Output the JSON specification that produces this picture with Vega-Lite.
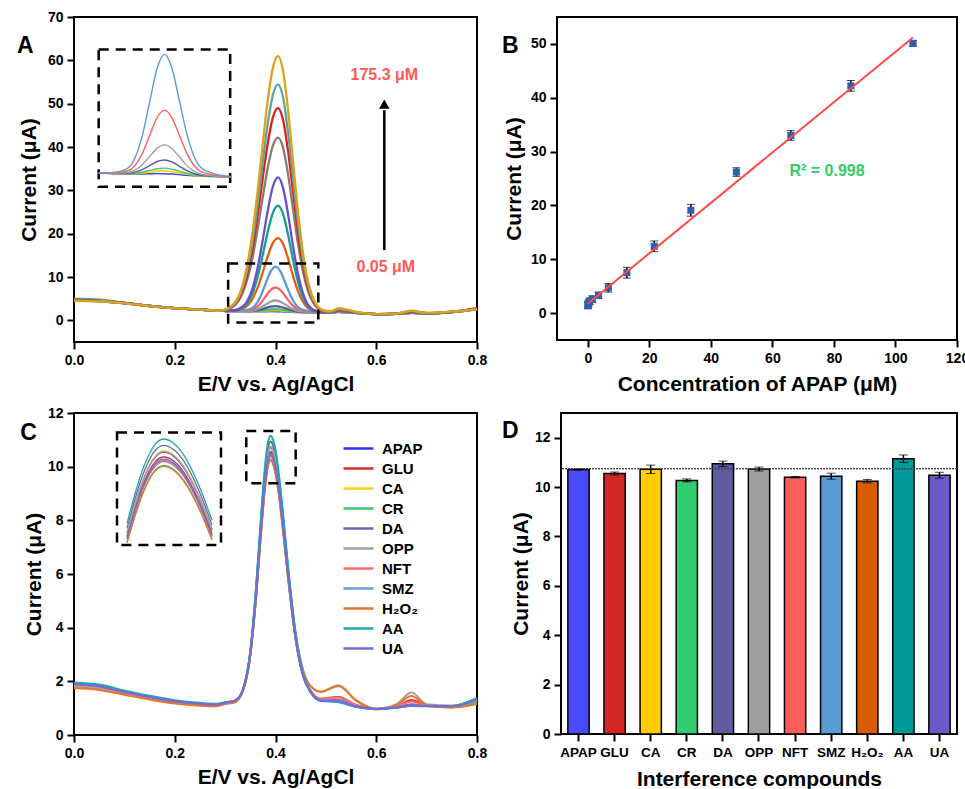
{
"$schema": "https://vega.github.io/schema/vega-lite/v6.json",
"background": "white",
"padding": {"left": 15, "top": 9, "right": 0, "bottom": 0},
"spacing": 10,
"resolve": {"scale": {"color": "independent"}, "legend": {"color": "independent"}},
"datasets": {
"A": [
{"c":"a14","x":0,"y":4.8},{"c":"a14","x":0.05,"y":4.6},{"c":"a14","x":0.1,"y":4.0},{"c":"a14","x":0.15,"y":3.35},{"c":"a14","x":0.2,"y":2.8},{"c":"a14","x":0.25,"y":2.45},{"c":"a14","x":0.29,"y":2.25},
{"c":"a14","x":0.31,"y":2.15},{"c":"a14","x":0.33,"y":2.11},{"c":"a14","x":0.35,"y":2.08},{"c":"a14","x":0.36,"y":2.07},{"c":"a14","x":0.37,"y":2.08},{"c":"a14","x":0.38,"y":2.09},{"c":"a14","x":0.39,"y":2.11},{"c":"a14","x":0.4,"y":2.1},{"c":"a14","x":0.41,"y":2.07},{"c":"a14","x":0.42,"y":2.02},{"c":"a14","x":0.43,"y":1.96},{"c":"a14","x":0.44,"y":1.92},{"c":"a14","x":0.45,"y":1.89},{"c":"a14","x":0.47,"y":1.85},{"c":"a14","x":0.49,"y":1.81},
{"c":"a14","x":0.51,"y":1.8},{"c":"a14","x":0.525,"y":1.95},{"c":"a14","x":0.545,"y":1.85},{"c":"a14","x":0.57,"y":1.6},{"c":"a14","x":0.6,"y":1.45},{"c":"a14","x":0.64,"y":1.5},{"c":"a14","x":0.67,"y":1.75},{"c":"a14","x":0.7,"y":1.6},{"c":"a14","x":0.75,"y":1.9},{"c":"a14","x":0.8,"y":2.6},
{"c":"a13","x":0,"y":4.75},{"c":"a13","x":0.05,"y":4.55},{"c":"a13","x":0.1,"y":3.98},{"c":"a13","x":0.15,"y":3.33},{"c":"a13","x":0.2,"y":2.8},{"c":"a13","x":0.25,"y":2.45},{"c":"a13","x":0.29,"y":2.25},
{"c":"a13","x":0.31,"y":2.15},{"c":"a13","x":0.33,"y":2.11},{"c":"a13","x":0.35,"y":2.09},{"c":"a13","x":0.36,"y":2.1},{"c":"a13","x":0.37,"y":2.16},{"c":"a13","x":0.38,"y":2.23},{"c":"a13","x":0.39,"y":2.31},{"c":"a13","x":0.4,"y":2.33},{"c":"a13","x":0.41,"y":2.27},{"c":"a13","x":0.42,"y":2.16},{"c":"a13","x":0.43,"y":2.05},{"c":"a13","x":0.44,"y":1.96},{"c":"a13","x":0.45,"y":1.9},{"c":"a13","x":0.47,"y":1.86},{"c":"a13","x":0.49,"y":1.81},
{"c":"a13","x":0.51,"y":1.8},{"c":"a13","x":0.525,"y":1.95},{"c":"a13","x":0.545,"y":1.85},{"c":"a13","x":0.57,"y":1.6},{"c":"a13","x":0.6,"y":1.45},{"c":"a13","x":0.64,"y":1.5},{"c":"a13","x":0.67,"y":1.72},{"c":"a13","x":0.7,"y":1.58},{"c":"a13","x":0.75,"y":1.88},{"c":"a13","x":0.8,"y":2.55},
{"c":"a12","x":0,"y":5.0},{"c":"a12","x":0.05,"y":4.75},{"c":"a12","x":0.1,"y":4.05},{"c":"a12","x":0.15,"y":3.35},{"c":"a12","x":0.2,"y":2.8},{"c":"a12","x":0.25,"y":2.45},{"c":"a12","x":0.29,"y":2.25},
{"c":"a12","x":0.31,"y":2.15},{"c":"a12","x":0.33,"y":2.12},{"c":"a12","x":0.35,"y":2.1},{"c":"a12","x":0.36,"y":2.13},{"c":"a12","x":0.37,"y":2.24},{"c":"a12","x":0.38,"y":2.39},{"c":"a12","x":0.39,"y":2.53},{"c":"a12","x":0.4,"y":2.58},{"c":"a12","x":0.41,"y":2.49},{"c":"a12","x":0.42,"y":2.32},{"c":"a12","x":0.43,"y":2.14},{"c":"a12","x":0.44,"y":2.0},{"c":"a12","x":0.45,"y":1.92},{"c":"a12","x":0.47,"y":1.86},{"c":"a12","x":0.49,"y":1.81},
{"c":"a12","x":0.51,"y":1.8},{"c":"a12","x":0.525,"y":1.95},{"c":"a12","x":0.545,"y":1.85},{"c":"a12","x":0.57,"y":1.6},{"c":"a12","x":0.6,"y":1.45},{"c":"a12","x":0.64,"y":1.5},{"c":"a12","x":0.67,"y":1.75},{"c":"a12","x":0.7,"y":1.6},{"c":"a12","x":0.75,"y":1.9},{"c":"a12","x":0.8,"y":2.7},
{"c":"a11","x":0,"y":4.8},{"c":"a11","x":0.05,"y":4.6},{"c":"a11","x":0.1,"y":4.0},{"c":"a11","x":0.15,"y":3.35},{"c":"a11","x":0.2,"y":2.8},{"c":"a11","x":0.25,"y":2.45},{"c":"a11","x":0.29,"y":2.25},
{"c":"a11","x":0.31,"y":2.15},{"c":"a11","x":0.33,"y":2.12},{"c":"a11","x":0.35,"y":2.14},{"c":"a11","x":0.36,"y":2.23},{"c":"a11","x":0.37,"y":2.47},{"c":"a11","x":0.38,"y":2.81},{"c":"a11","x":0.39,"y":3.15},{"c":"a11","x":0.4,"y":3.28},{"c":"a11","x":0.41,"y":3.12},{"c":"a11","x":0.42,"y":2.76},{"c":"a11","x":0.43,"y":2.39},{"c":"a11","x":0.44,"y":2.12},{"c":"a11","x":0.45,"y":1.97},{"c":"a11","x":0.47,"y":1.88},{"c":"a11","x":0.49,"y":1.82},
{"c":"a11","x":0.51,"y":1.8},{"c":"a11","x":0.525,"y":1.95},{"c":"a11","x":0.545,"y":1.85},{"c":"a11","x":0.57,"y":1.6},{"c":"a11","x":0.6,"y":1.45},{"c":"a11","x":0.64,"y":1.5},{"c":"a11","x":0.67,"y":1.75},{"c":"a11","x":0.7,"y":1.6},{"c":"a11","x":0.75,"y":1.9},{"c":"a11","x":0.8,"y":2.6},
{"c":"a10","x":0,"y":4.8},{"c":"a10","x":0.05,"y":4.6},{"c":"a10","x":0.1,"y":4.0},{"c":"a10","x":0.15,"y":3.35},{"c":"a10","x":0.2,"y":2.8},{"c":"a10","x":0.25,"y":2.45},{"c":"a10","x":0.29,"y":2.25},
{"c":"a10","x":0.31,"y":2.15},{"c":"a10","x":0.33,"y":2.14},{"c":"a10","x":0.35,"y":2.2},{"c":"a10","x":0.36,"y":2.41},{"c":"a10","x":0.37,"y":2.9},{"c":"a10","x":0.38,"y":3.61},{"c":"a10","x":0.39,"y":4.3},{"c":"a10","x":0.4,"y":4.58},{"c":"a10","x":0.41,"y":4.27},{"c":"a10","x":0.42,"y":3.58},{"c":"a10","x":0.43,"y":2.86},{"c":"a10","x":0.44,"y":2.34},{"c":"a10","x":0.45,"y":2.06},{"c":"a10","x":0.47,"y":1.9},{"c":"a10","x":0.49,"y":1.82},
{"c":"a10","x":0.51,"y":1.8},{"c":"a10","x":0.525,"y":1.95},{"c":"a10","x":0.545,"y":1.85},{"c":"a10","x":0.57,"y":1.6},{"c":"a10","x":0.6,"y":1.45},{"c":"a10","x":0.64,"y":1.5},{"c":"a10","x":0.67,"y":1.75},{"c":"a10","x":0.7,"y":1.6},{"c":"a10","x":0.75,"y":1.9},{"c":"a10","x":0.8,"y":2.6},
{"c":"a9","x":0,"y":4.8},{"c":"a9","x":0.05,"y":4.6},{"c":"a9","x":0.1,"y":4.0},{"c":"a9","x":0.15,"y":3.35},{"c":"a9","x":0.2,"y":2.8},{"c":"a9","x":0.25,"y":2.45},{"c":"a9","x":0.29,"y":2.25},
{"c":"a9","x":0.31,"y":2.15},{"c":"a9","x":0.33,"y":2.17},{"c":"a9","x":0.35,"y":2.35},{"c":"a9","x":0.36,"y":2.83},{"c":"a9","x":0.37,"y":3.89},{"c":"a9","x":0.38,"y":5.44},{"c":"a9","x":0.39,"y":6.96},{"c":"a9","x":0.4,"y":7.58},{"c":"a9","x":0.41,"y":6.94},{"c":"a9","x":0.42,"y":5.47},{"c":"a9","x":0.43,"y":3.94},{"c":"a9","x":0.44,"y":2.85},{"c":"a9","x":0.45,"y":2.27},{"c":"a9","x":0.47,"y":1.96},{"c":"a9","x":0.49,"y":1.84},
{"c":"a9","x":0.51,"y":1.8},{"c":"a9","x":0.525,"y":1.95},{"c":"a9","x":0.545,"y":1.85},{"c":"a9","x":0.57,"y":1.6},{"c":"a9","x":0.6,"y":1.45},{"c":"a9","x":0.64,"y":1.5},{"c":"a9","x":0.67,"y":1.75},{"c":"a9","x":0.7,"y":1.6},{"c":"a9","x":0.75,"y":1.9},{"c":"a9","x":0.8,"y":2.8},
{"c":"a8","x":0,"y":4.8},{"c":"a8","x":0.05,"y":4.6},{"c":"a8","x":0.1,"y":4.0},{"c":"a8","x":0.15,"y":3.35},{"c":"a8","x":0.2,"y":2.8},{"c":"a8","x":0.25,"y":2.45},{"c":"a8","x":0.29,"y":2.25},
{"c":"a8","x":0.31,"y":2.15},{"c":"a8","x":0.33,"y":2.21},{"c":"a8","x":0.35,"y":2.59},{"c":"a8","x":0.36,"y":3.51},{"c":"a8","x":0.37,"y":5.47},{"c":"a8","x":0.38,"y":8.36},{"c":"a8","x":0.39,"y":11.2},{"c":"a8","x":0.4,"y":12.38},{"c":"a8","x":0.41,"y":11.22},{"c":"a8","x":0.42,"y":8.49},{"c":"a8","x":0.43,"y":5.66},{"c":"a8","x":0.44,"y":3.67},{"c":"a8","x":0.45,"y":2.61},{"c":"a8","x":0.47,"y":2.06},{"c":"a8","x":0.49,"y":1.86},
{"c":"a8","x":0.51,"y":1.8},{"c":"a8","x":0.525,"y":1.95},{"c":"a8","x":0.545,"y":1.85},{"c":"a8","x":0.57,"y":1.6},{"c":"a8","x":0.6,"y":1.45},{"c":"a8","x":0.64,"y":1.5},{"c":"a8","x":0.67,"y":1.78},{"c":"a8","x":0.7,"y":1.6},{"c":"a8","x":0.75,"y":1.9},{"c":"a8","x":0.8,"y":2.6},
{"c":"a7","x":0,"y":4.7},{"c":"a7","x":0.05,"y":4.5},{"c":"a7","x":0.1,"y":3.98},{"c":"a7","x":0.15,"y":3.32},{"c":"a7","x":0.2,"y":2.8},{"c":"a7","x":0.25,"y":2.45},{"c":"a7","x":0.29,"y":2.25},
{"c":"a7","x":0.315,"y":2.21},{"c":"a7","x":0.335,"y":2.7},{"c":"a7","x":0.355,"y":5.12},{"c":"a7","x":0.365,"y":7.72},{"c":"a7","x":0.375,"y":11.19},{"c":"a7","x":0.385,"y":14.93},{"c":"a7","x":0.395,"y":17.87},{"c":"a7","x":0.405,"y":18.97},{"c":"a7","x":0.415,"y":17.64},{"c":"a7","x":0.425,"y":14.27},{"c":"a7","x":0.435,"y":10.19},{"c":"a7","x":0.445,"y":6.62},{"c":"a7","x":0.455,"y":4.17},{"c":"a7","x":0.475,"y":2.18},{"c":"a7","x":0.495,"y":1.83},
{"c":"a7","x":0.51,"y":1.8},{"c":"a7","x":0.525,"y":2.1},{"c":"a7","x":0.545,"y":1.95},{"c":"a7","x":0.57,"y":1.65},{"c":"a7","x":0.6,"y":1.45},{"c":"a7","x":0.64,"y":1.5},{"c":"a7","x":0.67,"y":1.85},{"c":"a7","x":0.7,"y":1.6},{"c":"a7","x":0.75,"y":1.9},{"c":"a7","x":0.8,"y":2.8},
{"c":"a6","x":0,"y":4.7},{"c":"a6","x":0.05,"y":4.5},{"c":"a6","x":0.1,"y":3.98},{"c":"a6","x":0.15,"y":3.32},{"c":"a6","x":0.2,"y":2.8},{"c":"a6","x":0.25,"y":2.45},{"c":"a6","x":0.29,"y":2.25},
{"c":"a6","x":0.315,"y":2.24},{"c":"a6","x":0.335,"y":2.96},{"c":"a6","x":0.355,"y":6.47},{"c":"a6","x":0.365,"y":10.22},{"c":"a6","x":0.375,"y":15.24},{"c":"a6","x":0.385,"y":20.63},{"c":"a6","x":0.395,"y":24.87},{"c":"a6","x":0.405,"y":26.47},{"c":"a6","x":0.415,"y":24.56},{"c":"a6","x":0.425,"y":19.72},{"c":"a6","x":0.435,"y":13.84},{"c":"a6","x":0.445,"y":8.7},{"c":"a6","x":0.455,"y":5.18},{"c":"a6","x":0.475,"y":2.33},{"c":"a6","x":0.495,"y":1.84},
{"c":"a6","x":0.51,"y":1.85},{"c":"a6","x":0.525,"y":2.2},{"c":"a6","x":0.545,"y":2.0},{"c":"a6","x":0.57,"y":1.65},{"c":"a6","x":0.6,"y":1.45},{"c":"a6","x":0.64,"y":1.5},{"c":"a6","x":0.67,"y":1.9},{"c":"a6","x":0.7,"y":1.6},{"c":"a6","x":0.75,"y":1.9},{"c":"a6","x":0.8,"y":2.6},
{"c":"a5","x":0,"y":4.65},{"c":"a5","x":0.05,"y":4.5},{"c":"a5","x":0.1,"y":3.97},{"c":"a5","x":0.15,"y":3.31},{"c":"a5","x":0.2,"y":2.8},{"c":"a5","x":0.25,"y":2.45},{"c":"a5","x":0.29,"y":2.25},
{"c":"a5","x":0.315,"y":2.26},{"c":"a5","x":0.335,"y":3.19},{"c":"a5","x":0.355,"y":7.64},{"c":"a5","x":0.365,"y":12.39},{"c":"a5","x":0.375,"y":18.74},{"c":"a5","x":0.385,"y":25.57},{"c":"a5","x":0.395,"y":30.94},{"c":"a5","x":0.405,"y":32.97},{"c":"a5","x":0.415,"y":30.56},{"c":"a5","x":0.425,"y":24.44},{"c":"a5","x":0.435,"y":17.01},{"c":"a5","x":0.445,"y":10.51},{"c":"a5","x":0.455,"y":6.06},{"c":"a5","x":0.475,"y":2.45},{"c":"a5","x":0.495,"y":1.85},
{"c":"a5","x":0.51,"y":1.85},{"c":"a5","x":0.525,"y":2.3},{"c":"a5","x":0.545,"y":2.05},{"c":"a5","x":0.57,"y":1.65},{"c":"a5","x":0.6,"y":1.45},{"c":"a5","x":0.64,"y":1.5},{"c":"a5","x":0.67,"y":1.95},{"c":"a5","x":0.7,"y":1.65},{"c":"a5","x":0.75,"y":1.95},{"c":"a5","x":0.8,"y":2.7},
{"c":"a4","x":0,"y":4.6},{"c":"a4","x":0.05,"y":4.45},{"c":"a4","x":0.1,"y":3.95},{"c":"a4","x":0.15,"y":3.3},{"c":"a4","x":0.2,"y":2.8},{"c":"a4","x":0.25,"y":2.45},{"c":"a4","x":0.29,"y":2.25},
{"c":"a4","x":0.315,"y":3.1},{"c":"a4","x":0.335,"y":6.32},{"c":"a4","x":0.355,"y":14.8},{"c":"a4","x":0.365,"y":21.34},{"c":"a4","x":0.375,"y":28.64},{"c":"a4","x":0.385,"y":35.46},{"c":"a4","x":0.395,"y":40.38},{"c":"a4","x":0.405,"y":42.17},{"c":"a4","x":0.415,"y":39.82},{"c":"a4","x":0.425,"y":33.61},{"c":"a4","x":0.435,"y":25.47},{"c":"a4","x":0.445,"y":17.41},{"c":"a4","x":0.455,"y":10.96},{"c":"a4","x":0.475,"y":4.01},{"c":"a4","x":0.495,"y":2.12},
{"c":"a4","x":0.51,"y":1.9},{"c":"a4","x":0.525,"y":2.4},{"c":"a4","x":0.545,"y":2.1},{"c":"a4","x":0.57,"y":1.65},{"c":"a4","x":0.6,"y":1.45},{"c":"a4","x":0.64,"y":1.5},{"c":"a4","x":0.67,"y":2.0},{"c":"a4","x":0.7,"y":1.65},{"c":"a4","x":0.75,"y":1.95},{"c":"a4","x":0.8,"y":2.6},
{"c":"a3","x":0,"y":4.6},{"c":"a3","x":0.05,"y":4.45},{"c":"a3","x":0.1,"y":3.95},{"c":"a3","x":0.15,"y":3.3},{"c":"a3","x":0.2,"y":2.8},{"c":"a3","x":0.25,"y":2.45},{"c":"a3","x":0.29,"y":2.25},
{"c":"a3","x":0.315,"y":3.27},{"c":"a3","x":0.335,"y":7.04},{"c":"a3","x":0.355,"y":16.96},{"c":"a3","x":0.365,"y":24.6},{"c":"a3","x":0.375,"y":33.14},{"c":"a3","x":0.385,"y":41.11},{"c":"a3","x":0.395,"y":46.88},{"c":"a3","x":0.405,"y":48.97},{"c":"a3","x":0.415,"y":46.22},{"c":"a3","x":0.425,"y":38.97},{"c":"a3","x":0.435,"y":29.45},{"c":"a3","x":0.445,"y":20.03},{"c":"a3","x":0.455,"y":12.49},{"c":"a3","x":0.475,"y":4.38},{"c":"a3","x":0.495,"y":2.18},
{"c":"a3","x":0.51,"y":1.95},{"c":"a3","x":0.525,"y":2.5},{"c":"a3","x":0.545,"y":2.2},{"c":"a3","x":0.57,"y":1.7},{"c":"a3","x":0.6,"y":1.45},{"c":"a3","x":0.64,"y":1.55},{"c":"a3","x":0.67,"y":2.1},{"c":"a3","x":0.7,"y":1.65},{"c":"a3","x":0.75,"y":2.0},{"c":"a3","x":0.8,"y":2.7},
{"c":"a2","x":0,"y":4.55},{"c":"a2","x":0.05,"y":4.4},{"c":"a2","x":0.1,"y":3.93},{"c":"a2","x":0.15,"y":3.3},{"c":"a2","x":0.2,"y":2.8},{"c":"a2","x":0.25,"y":2.45},{"c":"a2","x":0.29,"y":2.25},
{"c":"a2","x":0.315,"y":3.4},{"c":"a2","x":0.335,"y":7.61},{"c":"a2","x":0.355,"y":18.7},{"c":"a2","x":0.365,"y":27.24},{"c":"a2","x":0.375,"y":36.79},{"c":"a2","x":0.385,"y":45.69},{"c":"a2","x":0.395,"y":52.13},{"c":"a2","x":0.405,"y":54.47},{"c":"a2","x":0.415,"y":51.41},{"c":"a2","x":0.425,"y":43.3},{"c":"a2","x":0.435,"y":32.68},{"c":"a2","x":0.445,"y":22.16},{"c":"a2","x":0.455,"y":13.74},{"c":"a2","x":0.475,"y":4.68},{"c":"a2","x":0.495,"y":2.22},
{"c":"a2","x":0.51,"y":2.0},{"c":"a2","x":0.525,"y":2.6},{"c":"a2","x":0.545,"y":2.3},{"c":"a2","x":0.57,"y":1.7},{"c":"a2","x":0.6,"y":1.45},{"c":"a2","x":0.64,"y":1.55},{"c":"a2","x":0.67,"y":2.15},{"c":"a2","x":0.7,"y":1.7},{"c":"a2","x":0.75,"y":2.0},{"c":"a2","x":0.8,"y":2.6},
{"c":"a1","x":0,"y":4.5},{"c":"a1","x":0.05,"y":4.4},{"c":"a1","x":0.1,"y":3.92},{"c":"a1","x":0.15,"y":3.3},{"c":"a1","x":0.2,"y":2.8},{"c":"a1","x":0.25,"y":2.45},{"c":"a1","x":0.29,"y":2.25},
{"c":"a1","x":0.315,"y":3.56},{"c":"a1","x":0.335,"y":8.3},{"c":"a1","x":0.355,"y":20.76},{"c":"a1","x":0.365,"y":30.36},{"c":"a1","x":0.375,"y":41.09},{"c":"a1","x":0.385,"y":51.1},{"c":"a1","x":0.395,"y":58.34},{"c":"a1","x":0.405,"y":60.97},{"c":"a1","x":0.415,"y":57.53},{"c":"a1","x":0.425,"y":48.42},{"c":"a1","x":0.435,"y":36.48},{"c":"a1","x":0.445,"y":24.66},{"c":"a1","x":0.455,"y":15.2},{"c":"a1","x":0.475,"y":5.03},{"c":"a1","x":0.495,"y":2.27},
{"c":"a1","x":0.51,"y":2.1},{"c":"a1","x":0.525,"y":2.8},{"c":"a1","x":0.545,"y":2.4},{"c":"a1","x":0.57,"y":1.7},{"c":"a1","x":0.6,"y":1.45},{"c":"a1","x":0.64,"y":1.55},{"c":"a1","x":0.67,"y":2.25},{"c":"a1","x":0.7,"y":1.7},{"c":"a1","x":0.75,"y":2.0},{"c":"a1","x":0.8,"y":2.6}
],
"C": [
{"sp":"APAP","x":0,"y":1.92},{"sp":"APAP","x":0.05,"y":1.85},{"sp":"APAP","x":0.1,"y":1.62},{"sp":"APAP","x":0.15,"y":1.43},{"sp":"APAP","x":0.2,"y":1.27},{"sp":"APAP","x":0.25,"y":1.17},{"sp":"APAP","x":0.28,"y":1.14},
{"sp":"APAP","x":0.3,"y":1.2},{"sp":"APAP","x":0.32,"y":1.28},{"sp":"APAP","x":0.335,"y":1.66},{"sp":"APAP","x":0.35,"y":3.06},{"sp":"APAP","x":0.36,"y":4.99},{"sp":"APAP","x":0.372,"y":8.02},{"sp":"APAP","x":0.38,"y":9.78},{"sp":"APAP","x":0.385,"y":10.46},{"sp":"APAP","x":0.39,"y":10.71},{"sp":"APAP","x":0.395,"y":10.58},{"sp":"APAP","x":0.4,"y":10.2},{"sp":"APAP","x":0.407,"y":9.31},{"sp":"APAP","x":0.414,"y":8.12},{"sp":"APAP","x":0.425,"y":6.06},{"sp":"APAP","x":0.44,"y":3.66},{"sp":"APAP","x":0.455,"y":2.22},{"sp":"APAP","x":0.47,"y":1.6},
{"sp":"APAP","x":0.49,"y":1.28},{"sp":"APAP","x":0.525,"y":1.25},{"sp":"APAP","x":0.56,"y":1.06},{"sp":"APAP","x":0.6,"y":0.97},{"sp":"APAP","x":0.64,"y":1.03},{"sp":"APAP","x":0.67,"y":1.1},{"sp":"APAP","x":0.7,"y":1.08},{"sp":"APAP","x":0.75,"y":1.07},{"sp":"APAP","x":0.8,"y":1.35},
{"sp":"GLU","x":0,"y":1.9},{"sp":"GLU","x":0.05,"y":1.82},{"sp":"GLU","x":0.1,"y":1.6},{"sp":"GLU","x":0.15,"y":1.42},{"sp":"GLU","x":0.2,"y":1.26},{"sp":"GLU","x":0.25,"y":1.16},{"sp":"GLU","x":0.28,"y":1.13},
{"sp":"GLU","x":0.3,"y":1.2},{"sp":"GLU","x":0.32,"y":1.28},{"sp":"GLU","x":0.335,"y":1.65},{"sp":"GLU","x":0.35,"y":3.03},{"sp":"GLU","x":0.36,"y":4.92},{"sp":"GLU","x":0.372,"y":7.91},{"sp":"GLU","x":0.38,"y":9.64},{"sp":"GLU","x":0.385,"y":10.31},{"sp":"GLU","x":0.39,"y":10.55},{"sp":"GLU","x":0.395,"y":10.42},{"sp":"GLU","x":0.4,"y":10.05},{"sp":"GLU","x":0.407,"y":9.17},{"sp":"GLU","x":0.414,"y":8.0},{"sp":"GLU","x":0.425,"y":5.98},{"sp":"GLU","x":0.44,"y":3.62},{"sp":"GLU","x":0.455,"y":2.21},{"sp":"GLU","x":0.47,"y":1.65},
{"sp":"GLU","x":0.49,"y":1.35},{"sp":"GLU","x":0.525,"y":1.42},{"sp":"GLU","x":0.56,"y":1.12},{"sp":"GLU","x":0.6,"y":0.97},{"sp":"GLU","x":0.64,"y":1.06},{"sp":"GLU","x":0.67,"y":1.3},{"sp":"GLU","x":0.7,"y":1.1},{"sp":"GLU","x":0.75,"y":1.07},{"sp":"GLU","x":0.8,"y":1.25},
{"sp":"CA","x":0,"y":1.9},{"sp":"CA","x":0.05,"y":1.82},{"sp":"CA","x":0.1,"y":1.6},{"sp":"CA","x":0.15,"y":1.42},{"sp":"CA","x":0.2,"y":1.26},{"sp":"CA","x":0.25,"y":1.16},{"sp":"CA","x":0.28,"y":1.13},
{"sp":"CA","x":0.3,"y":1.2},{"sp":"CA","x":0.32,"y":1.28},{"sp":"CA","x":0.335,"y":1.66},{"sp":"CA","x":0.35,"y":3.07},{"sp":"CA","x":0.36,"y":5.0},{"sp":"CA","x":0.372,"y":8.04},{"sp":"CA","x":0.38,"y":9.8},{"sp":"CA","x":0.385,"y":10.49},{"sp":"CA","x":0.39,"y":10.75},{"sp":"CA","x":0.395,"y":10.62},{"sp":"CA","x":0.4,"y":10.24},{"sp":"CA","x":0.407,"y":9.34},{"sp":"CA","x":0.414,"y":8.15},{"sp":"CA","x":0.425,"y":6.08},{"sp":"CA","x":0.44,"y":3.67},{"sp":"CA","x":0.455,"y":2.22},{"sp":"CA","x":0.47,"y":1.6},
{"sp":"CA","x":0.49,"y":1.3},{"sp":"CA","x":0.525,"y":1.28},{"sp":"CA","x":0.56,"y":1.08},{"sp":"CA","x":0.6,"y":0.97},{"sp":"CA","x":0.64,"y":1.03},{"sp":"CA","x":0.67,"y":1.12},{"sp":"CA","x":0.7,"y":1.08},{"sp":"CA","x":0.75,"y":1.07},{"sp":"CA","x":0.8,"y":1.3},
{"sp":"CR","x":0,"y":1.85},{"sp":"CR","x":0.05,"y":1.78},{"sp":"CR","x":0.1,"y":1.57},{"sp":"CR","x":0.15,"y":1.4},{"sp":"CR","x":0.2,"y":1.24},{"sp":"CR","x":0.25,"y":1.14},{"sp":"CR","x":0.28,"y":1.12},
{"sp":"CR","x":0.3,"y":1.2},{"sp":"CR","x":0.32,"y":1.28},{"sp":"CR","x":0.335,"y":1.64},{"sp":"CR","x":0.35,"y":2.97},{"sp":"CR","x":0.36,"y":4.81},{"sp":"CR","x":0.372,"y":7.71},{"sp":"CR","x":0.38,"y":9.39},{"sp":"CR","x":0.385,"y":10.04},{"sp":"CR","x":0.39,"y":10.27},{"sp":"CR","x":0.395,"y":10.14},{"sp":"CR","x":0.4,"y":9.78},{"sp":"CR","x":0.407,"y":8.94},{"sp":"CR","x":0.414,"y":7.8},{"sp":"CR","x":0.425,"y":5.83},{"sp":"CR","x":0.44,"y":3.55},{"sp":"CR","x":0.455,"y":2.18},{"sp":"CR","x":0.47,"y":1.59},
{"sp":"CR","x":0.49,"y":1.28},{"sp":"CR","x":0.525,"y":1.25},{"sp":"CR","x":0.56,"y":1.05},{"sp":"CR","x":0.6,"y":0.97},{"sp":"CR","x":0.64,"y":1.02},{"sp":"CR","x":0.67,"y":1.1},{"sp":"CR","x":0.7,"y":1.08},{"sp":"CR","x":0.75,"y":1.05},{"sp":"CR","x":0.8,"y":1.2},
{"sp":"DA","x":0,"y":1.9},{"sp":"DA","x":0.05,"y":1.82},{"sp":"DA","x":0.1,"y":1.6},{"sp":"DA","x":0.15,"y":1.42},{"sp":"DA","x":0.2,"y":1.26},{"sp":"DA","x":0.25,"y":1.16},{"sp":"DA","x":0.28,"y":1.13},
{"sp":"DA","x":0.3,"y":1.2},{"sp":"DA","x":0.32,"y":1.28},{"sp":"DA","x":0.335,"y":1.67},{"sp":"DA","x":0.35,"y":3.1},{"sp":"DA","x":0.36,"y":5.08},{"sp":"DA","x":0.372,"y":8.19},{"sp":"DA","x":0.38,"y":9.99},{"sp":"DA","x":0.385,"y":10.69},{"sp":"DA","x":0.39,"y":10.94},{"sp":"DA","x":0.395,"y":10.8},{"sp":"DA","x":0.4,"y":10.42},{"sp":"DA","x":0.407,"y":9.51},{"sp":"DA","x":0.414,"y":8.28},{"sp":"DA","x":0.425,"y":6.17},{"sp":"DA","x":0.44,"y":3.71},{"sp":"DA","x":0.455,"y":2.25},{"sp":"DA","x":0.47,"y":1.61},
{"sp":"DA","x":0.49,"y":1.3},{"sp":"DA","x":0.525,"y":1.3},{"sp":"DA","x":0.56,"y":1.08},{"sp":"DA","x":0.6,"y":0.97},{"sp":"DA","x":0.64,"y":1.03},{"sp":"DA","x":0.67,"y":1.15},{"sp":"DA","x":0.7,"y":1.08},{"sp":"DA","x":0.75,"y":1.07},{"sp":"DA","x":0.8,"y":1.32},
{"sp":"OPP","x":0,"y":1.8},{"sp":"OPP","x":0.05,"y":1.73},{"sp":"OPP","x":0.1,"y":1.53},{"sp":"OPP","x":0.15,"y":1.36},{"sp":"OPP","x":0.2,"y":1.2},{"sp":"OPP","x":0.25,"y":1.12},{"sp":"OPP","x":0.28,"y":1.09},
{"sp":"OPP","x":0.3,"y":1.18},{"sp":"OPP","x":0.32,"y":1.27},{"sp":"OPP","x":0.335,"y":1.66},{"sp":"OPP","x":0.35,"y":3.06},{"sp":"OPP","x":0.36,"y":5.0},{"sp":"OPP","x":0.372,"y":8.04},{"sp":"OPP","x":0.38,"y":9.8},{"sp":"OPP","x":0.385,"y":10.48},{"sp":"OPP","x":0.39,"y":10.73},{"sp":"OPP","x":0.395,"y":10.6},{"sp":"OPP","x":0.4,"y":10.22},{"sp":"OPP","x":0.407,"y":9.33},{"sp":"OPP","x":0.414,"y":8.13},{"sp":"OPP","x":0.425,"y":6.15},{"sp":"OPP","x":0.44,"y":3.81},{"sp":"OPP","x":0.455,"y":2.41},{"sp":"OPP","x":0.47,"y":1.82},
{"sp":"OPP","x":0.49,"y":1.62},{"sp":"OPP","x":0.525,"y":1.85},{"sp":"OPP","x":0.56,"y":1.3},{"sp":"OPP","x":0.6,"y":0.98},{"sp":"OPP","x":0.64,"y":1.15},{"sp":"OPP","x":0.67,"y":1.58},{"sp":"OPP","x":0.7,"y":1.15},{"sp":"OPP","x":0.75,"y":1.1},{"sp":"OPP","x":0.8,"y":1.3},
{"sp":"NFT","x":0,"y":1.88},{"sp":"NFT","x":0.05,"y":1.8},{"sp":"NFT","x":0.1,"y":1.58},{"sp":"NFT","x":0.15,"y":1.41},{"sp":"NFT","x":0.2,"y":1.25},{"sp":"NFT","x":0.25,"y":1.15},{"sp":"NFT","x":0.28,"y":1.12},
{"sp":"NFT","x":0.3,"y":1.2},{"sp":"NFT","x":0.32,"y":1.28},{"sp":"NFT","x":0.335,"y":1.64},{"sp":"NFT","x":0.35,"y":3.0},{"sp":"NFT","x":0.36,"y":4.86},{"sp":"NFT","x":0.372,"y":7.8},{"sp":"NFT","x":0.38,"y":9.5},{"sp":"NFT","x":0.385,"y":10.16},{"sp":"NFT","x":0.39,"y":10.4},{"sp":"NFT","x":0.395,"y":10.27},{"sp":"NFT","x":0.4,"y":9.91},{"sp":"NFT","x":0.407,"y":9.05},{"sp":"NFT","x":0.414,"y":7.89},{"sp":"NFT","x":0.425,"y":5.9},{"sp":"NFT","x":0.44,"y":3.58},{"sp":"NFT","x":0.455,"y":2.19},{"sp":"NFT","x":0.47,"y":1.64},
{"sp":"NFT","x":0.49,"y":1.35},{"sp":"NFT","x":0.525,"y":1.4},{"sp":"NFT","x":0.56,"y":1.12},{"sp":"NFT","x":0.6,"y":0.97},{"sp":"NFT","x":0.64,"y":1.06},{"sp":"NFT","x":0.67,"y":1.25},{"sp":"NFT","x":0.7,"y":1.1},{"sp":"NFT","x":0.75,"y":1.07},{"sp":"NFT","x":0.8,"y":1.28},
{"sp":"SMZ","x":0,"y":1.9},{"sp":"SMZ","x":0.05,"y":1.82},{"sp":"SMZ","x":0.1,"y":1.6},{"sp":"SMZ","x":0.15,"y":1.42},{"sp":"SMZ","x":0.2,"y":1.26},{"sp":"SMZ","x":0.25,"y":1.16},{"sp":"SMZ","x":0.28,"y":1.13},
{"sp":"SMZ","x":0.3,"y":1.2},{"sp":"SMZ","x":0.32,"y":1.28},{"sp":"SMZ","x":0.335,"y":1.64},{"sp":"SMZ","x":0.35,"y":3.01},{"sp":"SMZ","x":0.36,"y":4.88},{"sp":"SMZ","x":0.372,"y":7.83},{"sp":"SMZ","x":0.38,"y":9.54},{"sp":"SMZ","x":0.385,"y":10.2},{"sp":"SMZ","x":0.39,"y":10.44},{"sp":"SMZ","x":0.395,"y":10.31},{"sp":"SMZ","x":0.4,"y":9.94},{"sp":"SMZ","x":0.407,"y":9.08},{"sp":"SMZ","x":0.414,"y":7.92},{"sp":"SMZ","x":0.425,"y":5.92},{"sp":"SMZ","x":0.44,"y":3.59},{"sp":"SMZ","x":0.455,"y":2.2},{"sp":"SMZ","x":0.47,"y":1.59},
{"sp":"SMZ","x":0.49,"y":1.3},{"sp":"SMZ","x":0.525,"y":1.27},{"sp":"SMZ","x":0.56,"y":1.07},{"sp":"SMZ","x":0.6,"y":0.97},{"sp":"SMZ","x":0.64,"y":1.03},{"sp":"SMZ","x":0.67,"y":1.1},{"sp":"SMZ","x":0.7,"y":1.08},{"sp":"SMZ","x":0.75,"y":1.07},{"sp":"SMZ","x":0.8,"y":1.33},
{"sp":"H₂O₂","x":0,"y":1.75},{"sp":"H₂O₂","x":0.05,"y":1.68},{"sp":"H₂O₂","x":0.1,"y":1.5},{"sp":"H₂O₂","x":0.15,"y":1.32},{"sp":"H₂O₂","x":0.2,"y":1.17},{"sp":"H₂O₂","x":0.25,"y":1.09},{"sp":"H₂O₂","x":0.28,"y":1.07},
{"sp":"H₂O₂","x":0.3,"y":1.15},{"sp":"H₂O₂","x":0.32,"y":1.22},{"sp":"H₂O₂","x":0.335,"y":1.64},{"sp":"H₂O₂","x":0.35,"y":2.97},{"sp":"H₂O₂","x":0.36,"y":4.8},{"sp":"H₂O₂","x":0.372,"y":7.69},{"sp":"H₂O₂","x":0.38,"y":9.36},{"sp":"H₂O₂","x":0.385,"y":10.01},{"sp":"H₂O₂","x":0.39,"y":10.24},{"sp":"H₂O₂","x":0.395,"y":10.11},{"sp":"H₂O₂","x":0.4,"y":9.75},{"sp":"H₂O₂","x":0.407,"y":8.91},{"sp":"H₂O₂","x":0.414,"y":7.78},{"sp":"H₂O₂","x":0.425,"y":5.9},{"sp":"H₂O₂","x":0.44,"y":3.69},{"sp":"H₂O₂","x":0.455,"y":2.36},{"sp":"H₂O₂","x":0.47,"y":1.81},
{"sp":"H₂O₂","x":0.49,"y":1.6},{"sp":"H₂O₂","x":0.525,"y":1.83},{"sp":"H₂O₂","x":0.56,"y":1.28},{"sp":"H₂O₂","x":0.6,"y":0.95},{"sp":"H₂O₂","x":0.64,"y":1.12},{"sp":"H₂O₂","x":0.67,"y":1.45},{"sp":"H₂O₂","x":0.7,"y":1.1},{"sp":"H₂O₂","x":0.75,"y":1.02},{"sp":"H₂O₂","x":0.8,"y":1.15},
{"sp":"AA","x":0,"y":1.96},{"sp":"AA","x":0.05,"y":1.88},{"sp":"AA","x":0.1,"y":1.66},{"sp":"AA","x":0.15,"y":1.46},{"sp":"AA","x":0.2,"y":1.3},{"sp":"AA","x":0.25,"y":1.2},{"sp":"AA","x":0.28,"y":1.16},
{"sp":"AA","x":0.3,"y":1.22},{"sp":"AA","x":0.32,"y":1.28},{"sp":"AA","x":0.335,"y":1.68},{"sp":"AA","x":0.35,"y":3.14},{"sp":"AA","x":0.36,"y":5.16},{"sp":"AA","x":0.372,"y":8.34},{"sp":"AA","x":0.38,"y":10.18},{"sp":"AA","x":0.385,"y":10.89},{"sp":"AA","x":0.39,"y":11.15},{"sp":"AA","x":0.395,"y":11.01},{"sp":"AA","x":0.4,"y":10.62},{"sp":"AA","x":0.407,"y":9.68},{"sp":"AA","x":0.414,"y":8.44},{"sp":"AA","x":0.425,"y":6.28},{"sp":"AA","x":0.44,"y":3.77},{"sp":"AA","x":0.455,"y":2.27},{"sp":"AA","x":0.47,"y":1.61},
{"sp":"AA","x":0.49,"y":1.28},{"sp":"AA","x":0.525,"y":1.22},{"sp":"AA","x":0.56,"y":1.05},{"sp":"AA","x":0.6,"y":0.98},{"sp":"AA","x":0.64,"y":1.02},{"sp":"AA","x":0.67,"y":1.08},{"sp":"AA","x":0.7,"y":1.07},{"sp":"AA","x":0.75,"y":1.08},{"sp":"AA","x":0.8,"y":1.38},
{"sp":"UA","x":0,"y":1.9},{"sp":"UA","x":0.05,"y":1.82},{"sp":"UA","x":0.1,"y":1.6},{"sp":"UA","x":0.15,"y":1.42},{"sp":"UA","x":0.2,"y":1.26},{"sp":"UA","x":0.25,"y":1.16},{"sp":"UA","x":0.28,"y":1.13},
{"sp":"UA","x":0.3,"y":1.2},{"sp":"UA","x":0.32,"y":1.28},{"sp":"UA","x":0.335,"y":1.65},{"sp":"UA","x":0.35,"y":3.01},{"sp":"UA","x":0.36,"y":4.9},{"sp":"UA","x":0.372,"y":7.86},{"sp":"UA","x":0.38,"y":9.58},{"sp":"UA","x":0.385,"y":10.24},{"sp":"UA","x":0.39,"y":10.48},{"sp":"UA","x":0.395,"y":10.35},{"sp":"UA","x":0.4,"y":9.98},{"sp":"UA","x":0.407,"y":9.11},{"sp":"UA","x":0.414,"y":7.95},{"sp":"UA","x":0.425,"y":5.94},{"sp":"UA","x":0.44,"y":3.6},{"sp":"UA","x":0.455,"y":2.2},{"sp":"UA","x":0.47,"y":1.59},
{"sp":"UA","x":0.49,"y":1.28},{"sp":"UA","x":0.525,"y":1.25},{"sp":"UA","x":0.56,"y":1.06},{"sp":"UA","x":0.6,"y":0.97},{"sp":"UA","x":0.64,"y":1.03},{"sp":"UA","x":0.67,"y":1.1},{"sp":"UA","x":0.7,"y":1.08},{"sp":"UA","x":0.75,"y":1.07},{"sp":"UA","x":0.8,"y":1.33}
],
"B": [
{"x":0.05,"y":1.4,"e":0.6},{"x":0.1,"y":1.6,"e":0.6},{"x":0.3,"y":1.9,"e":0.6},{"x":0.6,"y":2.2,"e":0.6},{"x":1.5,"y":2.6,"e":0.6},{"x":3.5,"y":3.3,"e":0.6},{"x":6.7,"y":4.7,"e":0.8},{"x":12.7,"y":7.5,"e":1.0},{"x":21.6,"y":12.4,"e":1.0},{"x":33.5,"y":19.1,"e":1.1},{"x":48.3,"y":26.2,"e":0.8},{"x":66.0,"y":33.0,"e":0.9},{"x":85.5,"y":42.2,"e":1.0},{"x":105.7,"y":50.1,"e":0.55}
],
"D": [
{"cmp":"APAP","v":10.71,"e":0.03},{"cmp":"GLU","v":10.55,"e":0.06},{"cmp":"CA","v":10.72,"e":0.17},{"cmp":"CR","v":10.27,"e":0.06},{"cmp":"DA","v":10.94,"e":0.11},{"cmp":"OPP","v":10.73,"e":0.08},{"cmp":"NFT","v":10.4,"e":0.03},{"cmp":"SMZ","v":10.44,"e":0.12},{"cmp":"H₂O₂","v":10.24,"e":0.07},{"cmp":"AA","v":11.15,"e":0.15},{"cmp":"UA","v":10.48,"e":0.12}
]
},
"vconcat": [
{
"hconcat": [
{
"width": 403, "height": 325,
"layer": [
{"layer": [
{"data": {"name": "A"}, "mark": {"type": "line", "interpolate": "monotone", "strokeWidth": 2.3},
 "encoding": {
  "x": {"field": "x", "type": "quantitative", "scale": {"domain": [0, 0.8], "nice": false, "zero": false}, "axis": {"values": [0, 0.2, 0.4, 0.6, 0.8], "format": ".1f", "labelFlush": false, "title": "E/V vs. Ag/AgCl", "titlePadding": 6}},
  "y": {"field": "y", "type": "quantitative", "scale": {"domain": [-5, 70], "nice": false, "zero": false}, "axis": {"values": [0, 10, 20, 30, 40, 50, 60, 70], "title": "Current (μA)", "titlePadding": 8}},
  "color": {"field": "c", "type": "nominal", "scale": {"domain": ["a1","a2","a3","a4","a5","a6","a7","a8","a9","a10","a11","a12","a13","a14"], "range": ["#dca11d","#5fa3a0","#e0201c","#8a7b76","#6a50c8","#10a090","#e06010","#5b9bd5","#ff6060","#a0a0a0","#5a55a5","#33cc66","#ffcc00","#4444dd"]}, "legend": null}
 }},
{"data": {"values": [{"x": 0.306, "x2": 0.485, "y": -0.5, "y2": 13.1}, {"x": 0.049, "x2": 0.31, "y": 30.8, "y2": 62.5}]},
 "mark": {"type": "rect", "fillOpacity": 0, "stroke": "black", "strokeWidth": 2.5, "strokeDash": [10, 7]},
 "encoding": {"x": {"field": "x", "type": "quantitative", "title": "E/V vs. Ag/AgCl"}, "x2": {"field": "x2"}, "y": {"field": "y", "type": "quantitative", "title": "Current (μA)"}, "y2": {"field": "y2"}}},
{"data": {"values": [{"x": 0.616, "y": 56.6, "t": "175.3 μM"}, {"x": 0.619, "y": 12.4, "t": "0.05 μM"}]},
 "mark": {"type": "text", "fontSize": 16, "fontWeight": "bold", "font": "Liberation Sans", "color": "#ff5a5a", "baseline": "middle", "align": "center"},
 "encoding": {"x": {"field": "x", "type": "quantitative", "title": "E/V vs. Ag/AgCl"}, "y": {"field": "y", "type": "quantitative", "title": "Current (μA)"}, "text": {"field": "t"}}},
{"data": {"values": [{"x": 0.616, "y": 16.2, "y2": 48.5}]},
 "mark": {"type": "rule", "strokeWidth": 2.5, "color": "black"},
 "encoding": {"x": {"field": "x", "type": "quantitative", "title": "E/V vs. Ag/AgCl"}, "y": {"field": "y", "type": "quantitative", "title": "Current (μA)"}, "y2": {"field": "y2"}}},
{"data": {"values": [{"x": 0.616, "y": 49.9}]},
 "mark": {"type": "point", "shape": "triangle-up", "filled": true, "color": "black", "size": 110, "opacity": 1},
 "encoding": {"x": {"field": "x", "type": "quantitative", "title": "E/V vs. Ag/AgCl"}, "y": {"field": "y", "type": "quantitative", "title": "Current (μA)"}}},
{"data": {"values": [{"x": -0.1132, "y": 61.62, "t": "A"}]},
 "mark": {"type": "text", "align": "left", "baseline": "alphabetic", "fontSize": 23, "fontWeight": "bold", "font": "Liberation Sans", "color": "black"},
 "encoding": {"x": {"field": "x", "type": "quantitative", "title": "E/V vs. Ag/AgCl"}, "y": {"field": "y", "type": "quantitative", "title": "Current (μA)"}, "text": {"field": "t"}}}
]},
{"data": {"name": "A"},
 "transform": [{"filter": {"field": "c", "oneOf": ["a8","a9","a10","a11","a12","a13","a14"]}}, {"filter": {"field": "x", "range": [0.309, 0.491]}}],
 "mark": {"type": "line", "interpolate": "monotone", "strokeWidth": 1.4},
 "encoding": {
  "x": {"field": "x", "type": "quantitative", "scale": {"domain": [0.2762, 0.8275], "nice": false, "zero": false}, "axis": null},
  "y": {"field": "y", "type": "quantitative", "scale": {"domain": [-12.4, 15.6], "nice": false, "zero": false}, "axis": null},
  "color": {"field": "c", "type": "nominal", "legend": null}
 }}
],
"resolve": {"scale": {"x": "independent", "y": "independent"}}
},
{
"width": 400, "height": 323,
"data": {"name": "B"},
"layer": [
{"mark": {"type": "errorbar", "ticks": {"color": "black", "size": 8, "strokeWidth": 1.5}, "rule": {"color": "black", "strokeWidth": 1.5}},
 "encoding": {"x": {"field": "x", "type": "quantitative", "title": "Concentration of APAP (μM)"}, "y": {"field": "y", "type": "quantitative", "title": "Current (μA)"}, "yError": {"field": "e"}}},
{"mark": {"type": "point", "shape": "square", "filled": true, "color": "#2d5fae", "size": 50, "opacity": 1},
 "encoding": {
  "x": {"field": "x", "type": "quantitative", "scale": {"domain": [-10, 120], "nice": false, "zero": false}, "axis": {"values": [0, 20, 40, 60, 80, 100, 120], "labelFlush": false, "title": "Concentration of APAP (μM)", "titlePadding": 8}},
  "y": {"field": "y", "type": "quantitative", "scale": {"domain": [-5, 55], "nice": false, "zero": false}, "axis": {"values": [0, 10, 20, 30, 40, 50], "title": "Current (μA)", "titlePadding": 6}}
 }},
{"data": {"values": [{"x": 0, "y": 1.75}, {"x": 105.7, "y": 51.2}]},
 "mark": {"type": "line", "color": "#ff4a4a", "strokeWidth": 2},
 "encoding": {"x": {"field": "x", "type": "quantitative", "title": "Concentration of APAP (μM)"}, "y": {"field": "y", "type": "quantitative", "title": "Current (μA)"}}},
{"data": {"values": [{"x": 77.75, "y": 26.45, "t": "R² = 0.998"}]},
 "mark": {"type": "text", "fontSize": 16, "fontWeight": "bold", "font": "Liberation Sans", "color": "#33cc66", "align": "center", "baseline": "middle"},
 "encoding": {"x": {"field": "x", "type": "quantitative", "title": "Concentration of APAP (μM)"}, "y": {"field": "y", "type": "quantitative", "title": "Current (μA)"}, "text": {"field": "t"}}},
{"data": {"values": [{"x": -27.87, "y": 48.26, "t": "B"}]},
 "mark": {"type": "text", "align": "left", "baseline": "alphabetic", "fontSize": 23, "fontWeight": "bold", "font": "Liberation Sans", "color": "black"},
 "encoding": {"x": {"field": "x", "type": "quantitative", "title": "Concentration of APAP (μM)"}, "y": {"field": "y", "type": "quantitative", "title": "Current (μA)"}, "text": {"field": "t"}}}
]
}
],
"spacing": 80,
"bounds": "flush",
"resolve": {"scale": {"color": "independent"}, "legend": {"color": "independent"}}
},
{
"hconcat": [
{
"width": 403, "height": 322,
"layer": [
{"layer": [
{"data": {"name": "C"}, "mark": {"type": "line", "interpolate": "monotone", "strokeWidth": 2},
 "encoding": {
  "x": {"field": "x", "type": "quantitative", "scale": {"domain": [0, 0.8], "nice": false, "zero": false}, "axis": {"values": [0, 0.2, 0.4, 0.6, 0.8], "format": ".1f", "labelFlush": false, "title": "E/V vs. Ag/AgCl", "titlePadding": 6}},
  "y": {"field": "y", "type": "quantitative", "scale": {"domain": [0, 12], "nice": false, "zero": false}, "axis": {"values": [0, 2, 4, 6, 8, 10, 12], "title": "Current (μA)", "titlePadding": 3}},
  "color": {"field": "sp", "type": "nominal", "sort": null,
   "scale": {"domain": ["APAP","GLU","CA","CR","DA","OPP","NFT","SMZ","H₂O₂","AA","UA"], "range": ["#3030ff","#e02a2a","#ffcc10","#35cc70","#6c6aa8","#a0a0a0","#ff6a6a","#60a0e0","#e8752a","#20a8a8","#7868d8"]},
   "legend": {"title": null, "orient": "none", "legendX": 273, "legendY": 24, "padding": 0, "direction": "vertical", "symbolType": "M-1.5,0H1.5", "symbolSize": 400, "symbolStrokeWidth": 2.5, "labelFont": "Liberation Sans", "labelFontWeight": "bold", "labelFontSize": 15, "labelColor": "black", "labelOffset": 12, "rowPadding": -0.4}}
 }},
{"data": {"values": [{"x": 0.342, "x2": 0.44, "y": 9.38, "y2": 11.33}, {"x": 0.0854, "x2": 0.2918, "y": 7.08, "y2": 11.27}]},
 "mark": {"type": "rect", "fillOpacity": 0, "stroke": "black", "strokeWidth": 2.5, "strokeDash": [10, 7]},
 "encoding": {"x": {"field": "x", "type": "quantitative", "title": "E/V vs. Ag/AgCl"}, "x2": {"field": "x2"}, "y": {"field": "y", "type": "quantitative", "title": "Current (μA)"}, "y2": {"field": "y2"}}},
{"data": {"values": [{"x": -0.1066, "y": 10.99, "t": "C"}]},
 "mark": {"type": "text", "align": "left", "baseline": "alphabetic", "fontSize": 23, "fontWeight": "bold", "font": "Liberation Sans", "color": "black"},
 "encoding": {"x": {"field": "x", "type": "quantitative", "title": "E/V vs. Ag/AgCl"}, "y": {"field": "y", "type": "quantitative", "title": "Current (μA)"}, "text": {"field": "t"}}}
]},
{"data": {"name": "C"},
 "transform": [{"filter": {"field": "x", "range": [0.371, 0.415]}}],
 "mark": {"type": "line", "interpolate": "monotone", "strokeWidth": 1.3},
 "encoding": {
  "x": {"field": "x", "type": "quantitative", "scale": {"domain": [0.3458, 0.5449], "nice": false, "zero": false}, "axis": null},
  "y": {"field": "y", "type": "quantitative", "scale": {"domain": [1.283, 12.017], "nice": false, "zero": false}, "axis": null},
  "color": {"field": "sp", "type": "nominal", "sort": null}
 }}
],
"resolve": {"scale": {"x": "independent", "y": "independent"}}
},
{
"width": 396, "height": 321,
"layer": [
{"data": {"name": "D"}, "layer": [
{"mark": {"type": "bar", "stroke": "black", "strokeWidth": 1.5},
 "encoding": {
  "x": {"field": "cmp", "type": "nominal", "sort": null, "scale": {"paddingInner": 0.41, "paddingOuter": 0.19}, "axis": {"labelAngle": 0, "labelFontSize": 13.5, "title": "Interference compounds", "titlePadding": 10}},
  "y": {"field": "v", "type": "quantitative", "scale": {"domain": [0, 13], "nice": false, "zero": false}, "axis": {"values": [0, 2, 4, 6, 8, 10, 12], "title": "Current (μA)", "titlePadding": 3}},
  "color": {"field": "cmp", "type": "nominal", "sort": null, "scale": {"domain": ["APAP","GLU","CA","CR","DA","OPP","NFT","SMZ","H₂O₂","AA","UA"], "range": ["#4a4aff","#d42626","#ffcc00","#33cc70","#5e5c9c","#9e9e9e","#ff5c5c","#5b9bd5","#d95c00","#00999a","#6a5ac8"]}, "legend": null}
 }},
{"mark": {"type": "errorbar", "ticks": {"color": "black", "size": 9, "strokeWidth": 1.5}, "rule": {"color": "black", "strokeWidth": 1.5}},
 "encoding": {"x": {"field": "cmp", "type": "nominal", "sort": null, "title": "Interference compounds"}, "y": {"field": "v", "type": "quantitative", "title": "Current (μA)"}, "yError": {"field": "e"}}},
{"mark": {"type": "rule", "color": "#444444", "strokeWidth": 1, "strokeDash": [1.5, 1.5]},
 "encoding": {"y": {"datum": 10.75, "title": "Current (μA)"}}}
]},
{"data": {"values": [{"x": -0.149, "y": 11.98, "t": "D"}]},
 "mark": {"type": "text", "align": "left", "baseline": "alphabetic", "fontSize": 23, "fontWeight": "bold", "font": "Liberation Sans", "color": "black"},
 "encoding": {"x": {"field": "x", "type": "quantitative", "scale": {"domain": [0, 1], "nice": false, "zero": false}, "axis": null}, "y": {"field": "y", "type": "quantitative", "scale": {"domain": [0, 13], "nice": false, "zero": false}, "axis": null}, "text": {"field": "t"}}}
],
"resolve": {"scale": {"x": "independent", "y": "independent"}}
}
],
"spacing": 84,
"bounds": "flush",
"resolve": {"scale": {"color": "independent"}, "legend": {"color": "independent"}}
}
],
"config": {
 "font": "Liberation Sans",
 "view": {"stroke": "black", "strokeWidth": 2},
 "axis": {"grid": false, "domain": false, "ticks": true, "tickColor": "black", "tickWidth": 2, "tickSize": 7, "labelFont": "Liberation Sans", "labelFontWeight": "bold", "labelFontSize": 14, "labelColor": "black", "labelPadding": 4, "titleFont": "Liberation Sans", "titleFontWeight": "bold", "titleFontSize": 21, "titleColor": "black"}
}
}
